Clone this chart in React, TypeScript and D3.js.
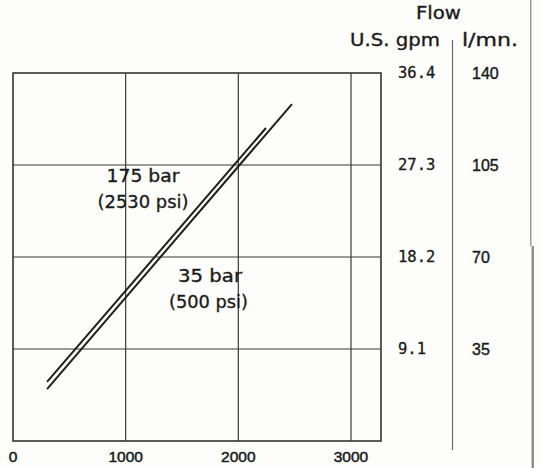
import React from "react";
import * as d3 from "d3";

// ---- data ----
const xTicks = [0, 1000, 2000, 3000];
const xDomainMax = 3266;
const gpmTicks = [9.1, 18.2, 27.3, 36.4];
const gpmLabels = ["9.1", "18.2", "27.3", "36.4"];
const lpmLabels = ["35", "70", "105", "140"];
const yDomainMax = 36.4;

// upper-left line (shorter)
const lineAX = [302, 2245];
const lineAY = [5.84, 30.96];
// lower-right line (longer)
const lineBX = [302, 2476];
const lineBY = [5.14, 33.33];

const labels = [
  { text: "175 bar", cx: 143, y: 182, w: 73 },
  { text: "(2530 psi)", cx: 143, y: 208, w: 91 },
  { text: "35 bar", cx: 210, y: 282, w: 64 },
  { text: "(500 psi)", cx: 208.5, y: 308, w: 79 },
];

export default function App() {
  const W = 541, H = 468;
  const x = d3.scaleLinear().domain([0, 3000]).range([13, 351]);
  const y = d3.scaleLinear().domain([0, yDomainMax]).range([441, 73]);
  const line = d3.line<[number, number]>().x((d) => x(d[0])).y((d) => y(d[1]));
  const ptsA = lineAX.map((v, i) => [v, lineAY[i]] as [number, number]);
  const ptsB = lineBX.map((v, i) => [v, lineBY[i]] as [number, number]);
  const x0 = x(0), x1 = x(xDomainMax), yT = y(yDomainMax), yB = y(0);
  const sans = "'DejaVu Sans', sans-serif";
  const arial = "'Liberation Sans', Arial, sans-serif";
  const mono = "'DejaVu Sans Mono', monospace";
  const ink = "#1a1a1a";
  return (
    <svg
      width={W}
      height={H}
      style={{ position: "absolute", left: 0, top: 0, background: "#fdfdfb" }}
    >
      <rect x={0} y={0} width={W} height={H} fill="#fdfdfb" />
      {/* right scan border */}
      <rect x={530} y={0} width={1.5} height={246} fill="#9a9a9a" />
      <rect x={531.5} y={246} width={2.5} height={222} fill="#8f8f8f" />

      {/* gridlines */}
      {xTicks.slice(1).map((t) => (
        <line key={"vx" + t} x1={x(t)} x2={x(t)} y1={yT} y2={yB} stroke="#3a3a3a" strokeWidth={1.2} />
      ))}
      {gpmTicks.slice(0, 3).map((t) => (
        <line key={"hy" + t} x1={x0} x2={x1} y1={y(t)} y2={y(t)} stroke="#3a3a3a" strokeWidth={1.2} />
      ))}
      {/* frame */}
      <rect x={x0} y={yT} width={x1 - x0} height={yB - yT} fill="none" stroke="#333" strokeWidth={1.6} />

      {/* lines */}
      <path d={line(ptsA) || ""} fill="none" stroke="#1e1e1e" strokeWidth={2} />
      <path d={line(ptsB) || ""} fill="none" stroke="#1e1e1e" strokeWidth={2} />

      {/* labels */}
      {labels.map((l) => (
        <text
          key={l.text}
          x={l.cx - l.w / 2}
          y={l.y}
          fontFamily={sans}
          fontSize={18.5}
          fill={ink}
          stroke={ink}
          strokeWidth={0.35}
          textLength={l.w}
          lengthAdjust="spacingAndGlyphs"
        >
          {l.text}
        </text>
      ))}

      {/* x tick labels */}
      {xTicks.map((t) => (
        <text key={"xl" + t} x={x(t)} y={462} textAnchor="middle" fontFamily={arial} fontSize={15.5} fill={ink} stroke={ink} strokeWidth={0.5}>
          {t}
        </text>
      ))}

      {/* right axis headers */}
      <text x={416} y={19} fontFamily={sans} fontSize={18} fill={ink} stroke={ink} strokeWidth={0.35} textLength={45} lengthAdjust="spacingAndGlyphs">
        Flow
      </text>
      <text x={350} y={46} fontFamily={sans} fontSize={18} fill={ink} stroke={ink} strokeWidth={0.35} textLength={90} lengthAdjust="spacingAndGlyphs">
        U.S. gpm
      </text>
      <text x={462} y={46} fontFamily={sans} fontSize={18} fill={ink} stroke={ink} strokeWidth={0.35} textLength={56} lengthAdjust="spacingAndGlyphs">
        l/mn.
      </text>
      <line x1={452.5} x2={452.5} y1={40} y2={450} stroke="#6a6a6a" strokeWidth={1.2} />

      {gpmTicks.map((t, i) => (
        <text key={"g" + t} x={398} y={y(t) + 5} fontFamily={mono} fontSize={15.5} fill={ink} stroke={ink} strokeWidth={0.3}>
          {gpmLabels[i]}
        </text>
      ))}
      {gpmTicks.map((t, i) => (
        <text key={"l" + t} x={472} y={y(t) + 5.5} fontFamily={arial} fontSize={16} fill={ink} stroke={ink} strokeWidth={0.4}>
          {lpmLabels[i]}
        </text>
      ))}
    </svg>
  );
}
